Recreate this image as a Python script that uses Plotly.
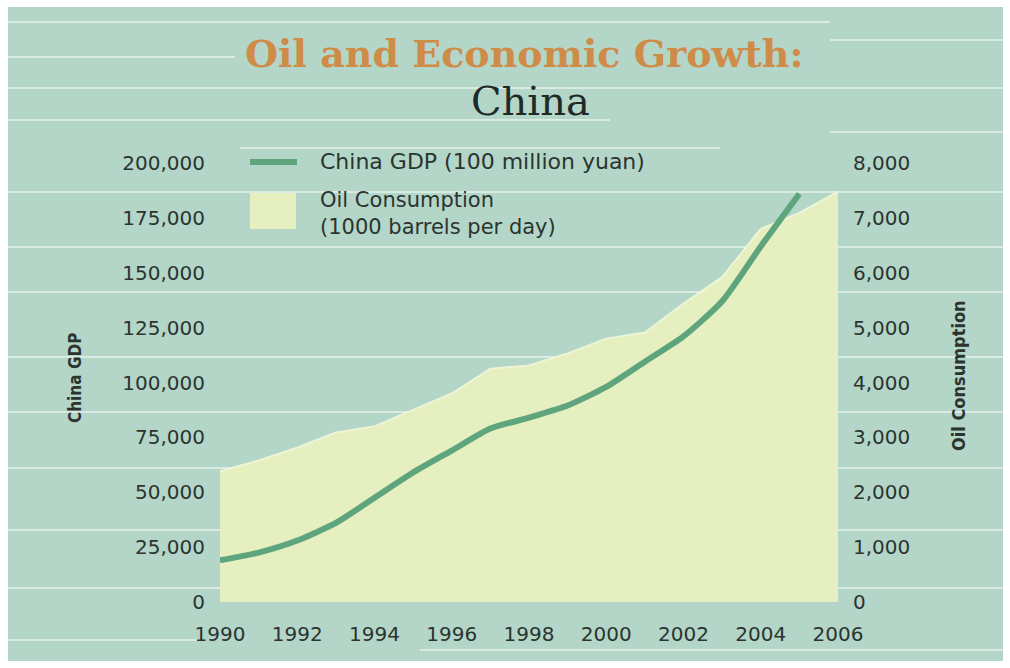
import plotly.graph_objects as go

# ---- data ----
years_oil = list(range(1990, 2007))
oil_consumption = [2380, 2580, 2810, 3090, 3200, 3500, 3800, 4250, 4310, 4530,
                   4800, 4910, 5440, 5920, 6800, 7090, 7480]  # 1000 barrels per day

years_gdp = list(range(1990, 2006))
china_gdp = [19000, 22500, 28000, 36000, 47500, 59000, 69000, 79000, 84000, 89500,
             98000, 109500, 121000, 137000, 162000, 186000]  # 100 million yuan

x_ticks = list(range(1990, 2007, 2))
gdp_ticks = [0, 25000, 50000, 75000, 100000, 125000, 150000, 175000, 200000]
oil_ticks = [0, 1000, 2000, 3000, 4000, 5000, 6000, 7000, 8000]

# ---- styling ----
W, H = 1010, 668
L, R, T, B = 220, 838, 163, 602
BG = "#b3d6c8"
STRIPE = "rgba(222,240,233,0.85)"
FILL = "#e6efc0"
GREEN = "#5ea57e"
TEXT = "#2b3430"
TICK_FONT = dict(family="DejaVu Sans", size=20, color=TEXT)


def px(x):
    return (x - L) / (R - L)


def py(y):
    return (B - y) / (B - T)


fig = go.Figure()

# oil consumption area (right-hand scale)
fig.add_trace(go.Scatter(
    x=years_oil, y=oil_consumption, yaxis="y",
    mode="lines", fill="tozeroy", fillcolor=FILL,
    line=dict(color="#eef5d6", width=2), hoverinfo="skip",
    name="Oil Consumption (1000 barrels per day)",
))

# GDP line (left-hand scale)
fig.add_trace(go.Scatter(
    x=years_gdp, y=china_gdp, yaxis="y2",
    mode="lines", line=dict(color=GREEN, width=6, shape="spline", smoothing=0.6),
    name="China GDP (100 million yuan)",
))

shapes = []
# white frame with teal card
shapes.append(dict(type="rect", xref="paper", yref="paper", layer="below",
                   x0=px(8), x1=px(1003), y0=py(661), y1=py(7),
                   fillcolor=BG, line=dict(width=0)))
# decorative light stripes across the card
stripes = [(22, 8, 830), (40, 830, 1003), (57, 8, 235), (88, 8, 1003),
           (120, 8, 610), (132, 830, 1003), (148, 240, 720), (192, 8, 1003),
           (247, 8, 1003), (292, 8, 1003), (357, 8, 1003), (412, 8, 1003),
           (468, 8, 1003), (530, 8, 1003), (588, 8, 1003), (640, 8, 200),
           (650, 420, 1003)]
for y, x0, x1 in stripes:
    shapes.append(dict(type="line", xref="paper", yref="paper", layer="below",
                       x0=px(x0), x1=px(x1), y0=py(y), y1=py(y),
                       line=dict(color=STRIPE, width=2)))
# legend swatches
shapes.append(dict(type="line", xref="paper", yref="paper",
                   x0=px(250), x1=px(297), y0=py(162), y1=py(162),
                   line=dict(color=GREEN, width=6)))
shapes.append(dict(type="rect", xref="paper", yref="paper",
                   x0=px(250), x1=px(296), y0=py(229), y1=py(193),
                   fillcolor=FILL, line=dict(width=0)))

annotations = [
    dict(text="<b>Oil and Economic Growth:</b>", x=px(524), y=py(54),
         font=dict(family="DejaVu Serif", size=38, color="#cf8c48")),
    dict(text="China", x=px(530), y=py(101),
         font=dict(family="DejaVu Serif", size=40, color="#1f2a27")),
    dict(text="China GDP (100 million yuan)", x=px(318), y=py(162), xanchor="left",
         font=dict(family="DejaVu Sans", size=22, color=TEXT)),
    dict(text="Oil Consumption<br>(1000 barrels per day)", x=px(318), y=py(213),
         xanchor="left", align="left",
         font=dict(family="DejaVu Sans", size=21, color=TEXT)),
    dict(text="<b>China GDP</b>", x=px(75), y=py(378), textangle=-90,
         font=dict(family="DejaVu Sans Condensed, DejaVu Sans", size=17, color=TEXT)),
    dict(text="<b>Oil Consumption</b>", x=px(958), y=py(376), textangle=-90,
         font=dict(family="DejaVu Sans Condensed, DejaVu Sans", size=18, color=TEXT)),
]
for a in annotations:
    a.setdefault("xref", "paper")
    a.setdefault("yref", "paper")
    a.setdefault("xanchor", "center")
    a.setdefault("yanchor", "middle")
    a.setdefault("showarrow", False)

fig.update_layout(
    width=W, height=H,
    margin=dict(l=L, r=W - R, t=T, b=H - B),
    paper_bgcolor="white", plot_bgcolor="rgba(0,0,0,0)",
    showlegend=False,
    shapes=shapes, annotations=annotations,
    xaxis=dict(range=[1990, 2006], tickvals=x_ticks, showgrid=False, zeroline=False,
               showline=False, ticks="", ticklabelstandoff=18, tickfont=TICK_FONT),
    yaxis=dict(range=[0, 8000], side="right", tickvals=oil_ticks, tickformat=",d",
               showgrid=False, zeroline=False, showline=False, ticks="",
               ticklabelstandoff=14, tickfont=TICK_FONT),
    yaxis2=dict(range=[0, 200000], side="left", overlaying="y", tickvals=gdp_ticks,
                tickformat=",d", showgrid=False, zeroline=False, showline=False,
                ticks="", ticklabelstandoff=14, tickfont=TICK_FONT),
)

fig.write_html("out.html")
